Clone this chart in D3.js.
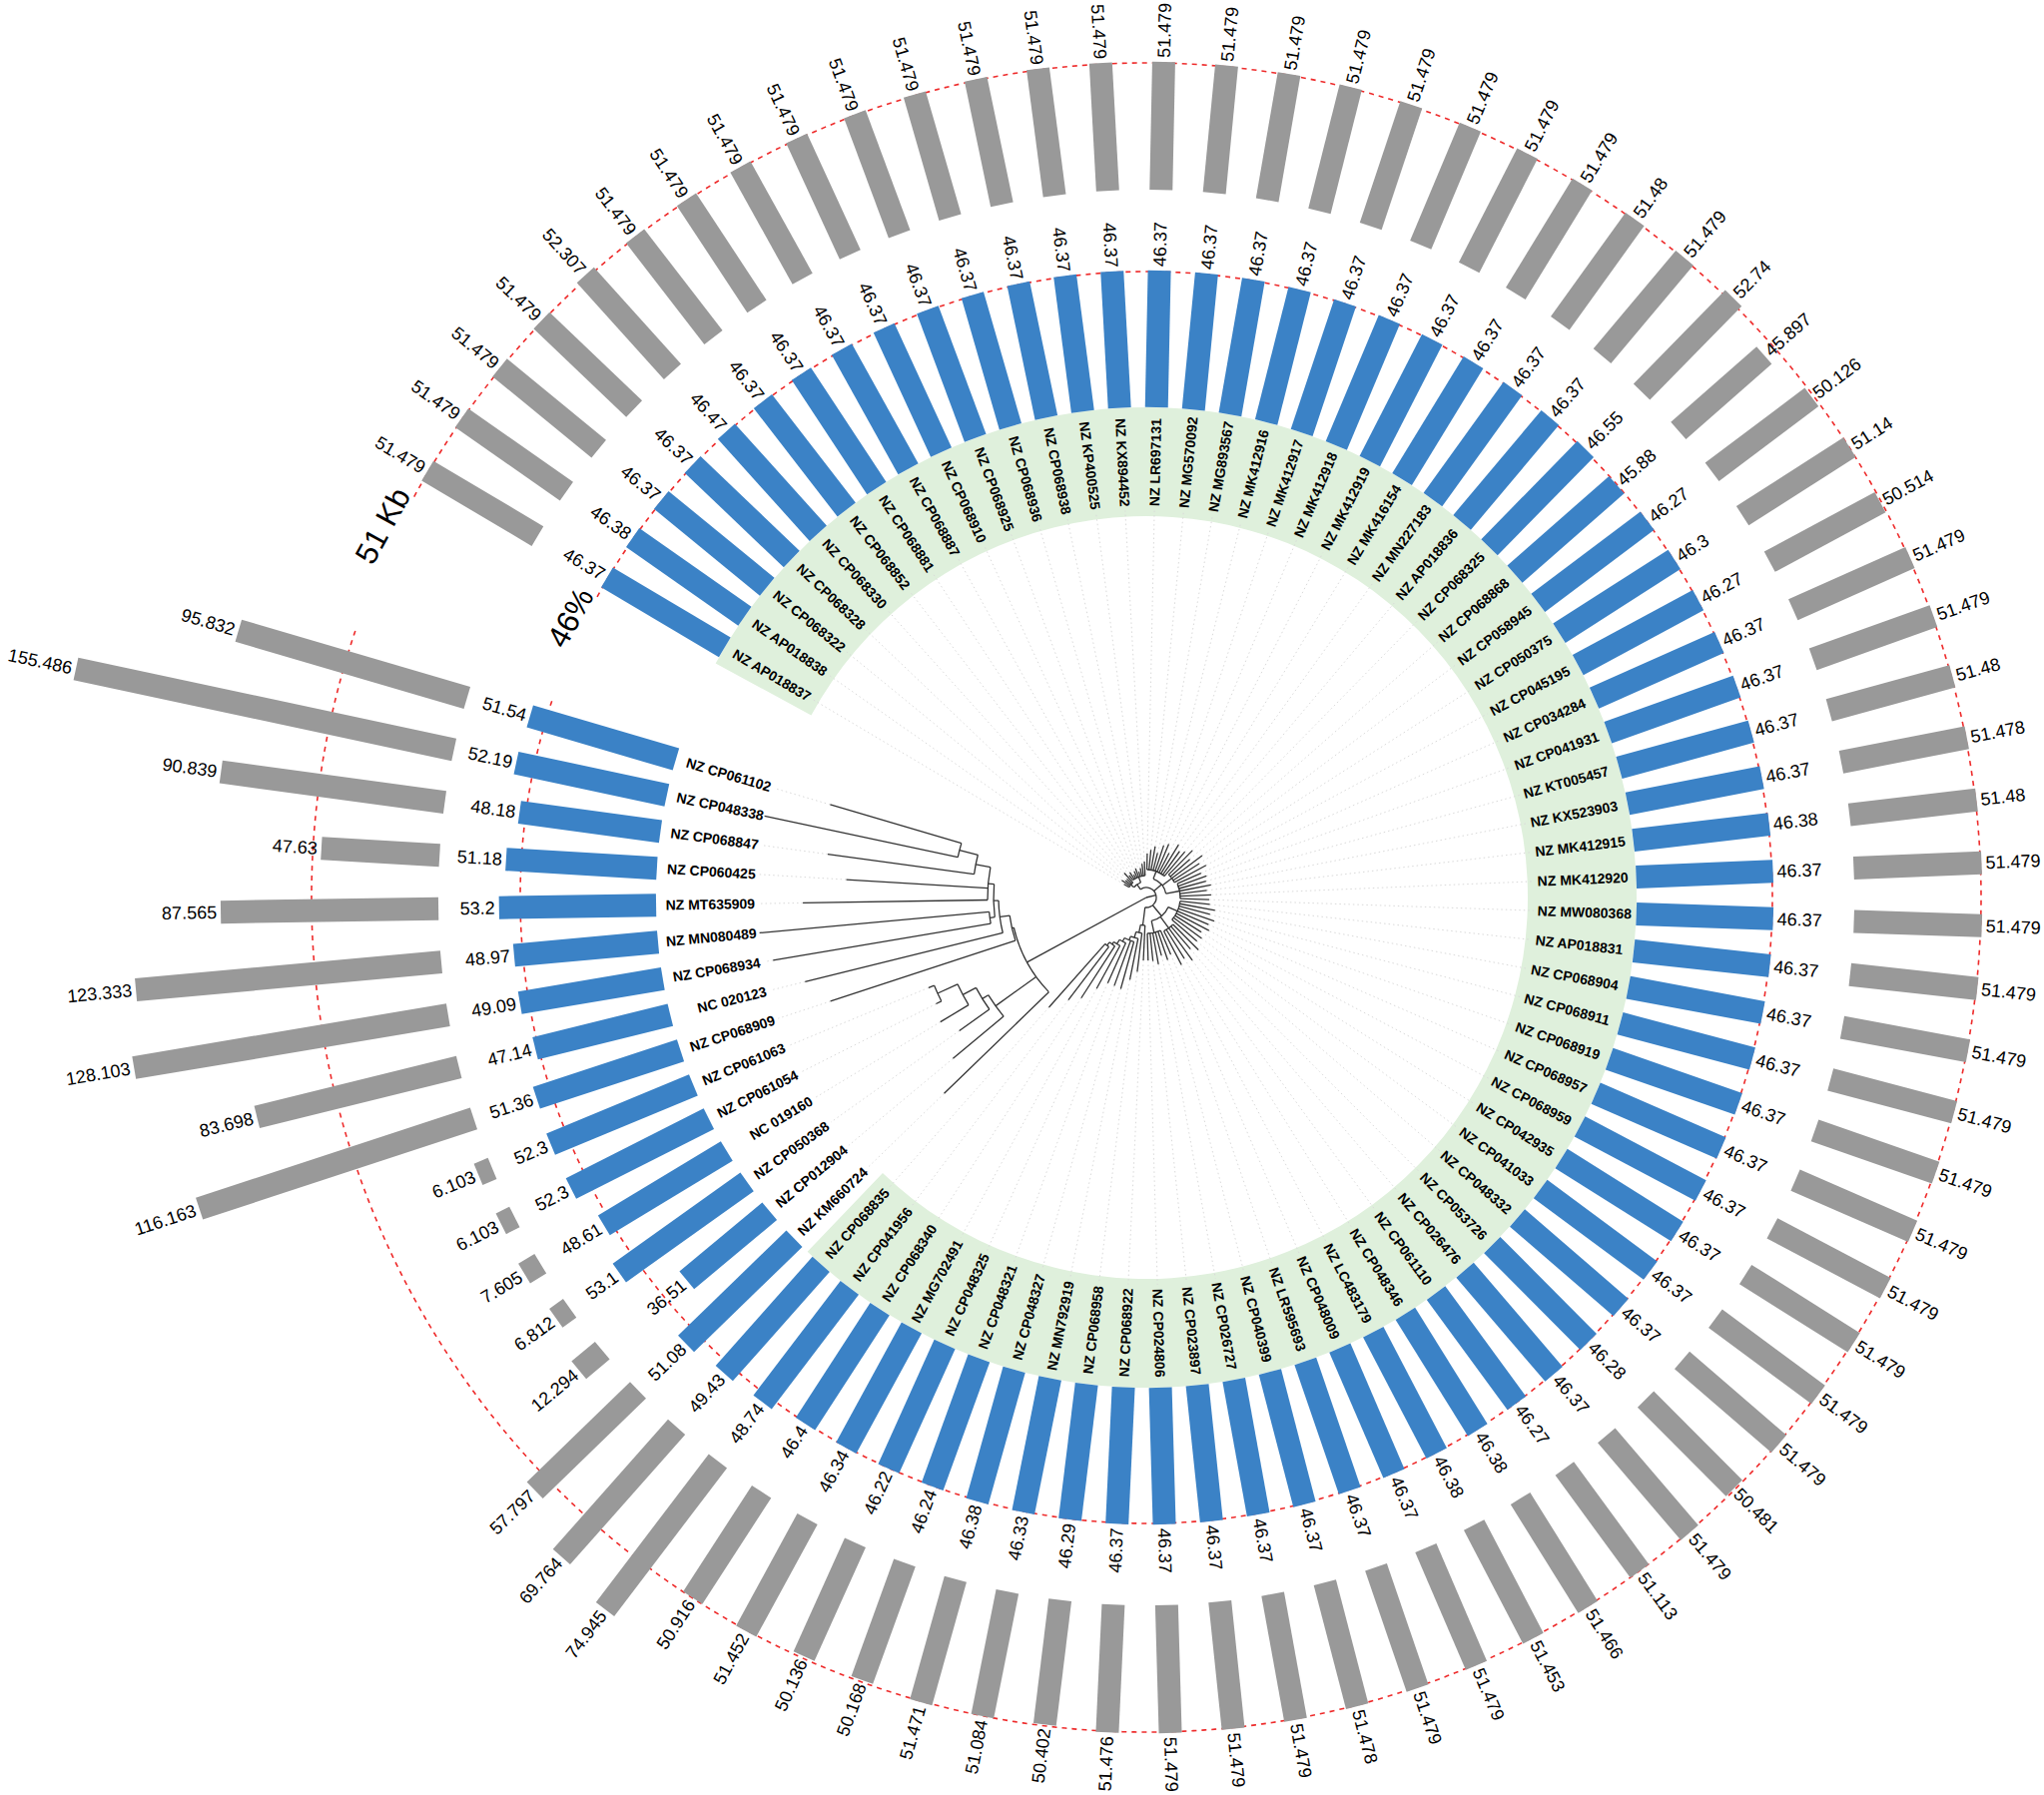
<!DOCTYPE html>
<html>
<head>
<meta charset="utf-8">
<script src="https://cdn.jsdelivr.net/npm/d3@7"></script>
<style>
  html, body { margin: 0; padding: 0; background: #fff; }
  svg { display: block; font-family: "Liberation Sans", Arial, Helvetica, sans-serif; }
</style>
</head>
<body>
<svg id="chart" width="2047" height="1798"></svg>
<script>
// ---- leaf order (clockwise around the circle) ----
const leafNames = [
  "NZ_AP018837","NZ_AP018838","NZ_CP068322","NZ_CP068328","NZ_CP068330","NZ_CP068852","NZ_CP068881",
  "NZ_CP068887","NZ_CP068910","NZ_CP068925","NZ_CP068936","NZ_CP068938","NZ_KP400525","NZ_KX894452",
  "NZ_LR697131","NZ_MG570092","NZ_MG893567","NZ_MK412916","NZ_MK412917","NZ_MK412918","NZ_MK412919",
  "NZ_MK416154","NZ_MN227183","NZ_AP018836","NZ_CP068325","NZ_CP068868","NZ_CP058945","NZ_CP050375",
  "NZ_CP045195","NZ_CP034284","NZ_CP041931","NZ_KT005457","NZ_KX523903","NZ_MK412915","NZ_MK412920",
  "NZ_MW080368","NZ_AP018831","NZ_CP068904","NZ_CP068911","NZ_CP068919","NZ_CP068957","NZ_CP068959",
  "NZ_CP042935","NZ_CP041033","NZ_CP048332","NZ_CP053726","NZ_CP026476","NZ_CP061110","NZ_CP048346",
  "NZ_LC483179","NZ_CP048009","NZ_LR595693","NZ_CP040399","NZ_CP026727","NZ_CP023897","NZ_CP024806",
  "NZ_CP068922","NZ_CP068958","NZ_MN792919","NZ_CP048327","NZ_CP048321","NZ_CP048325","NZ_MG702491",
  "NZ_CP068340","NZ_CP041956","NZ_CP068835","NZ_KM660724","NZ_CP012904","NZ_CP050368","NC_019160",
  "NZ_CP061054","NZ_CP061063","NZ_CP068909","NC_020123","NZ_CP068934","NZ_MN080489","NZ_MT635909",
  "NZ_CP060425","NZ_CP068847","NZ_CP048338","NZ_CP061102"
];

// ---- GC content (%) per leaf, same order ----
const gcPercent = [
  46.37,46.38,46.37,46.37,46.47,46.37,46.37,46.37,46.37,46.37,46.37,46.37,46.37,46.37,
  46.37,46.37,46.37,46.37,46.37,46.37,46.37,46.37,46.37,46.37,46.55,45.88,46.27,46.3,
  46.27,46.37,46.37,46.37,46.37,46.38,46.37,46.37,46.37,46.37,46.37,46.37,46.37,46.37,
  46.37,46.37,46.37,46.28,46.37,46.27,46.38,46.38,46.37,46.37,46.37,46.37,46.37,46.37,
  46.37,46.29,46.33,46.38,46.24,46.22,46.34,46.4,48.74,49.43,51.08,36.51,53.1,48.61,
  52.3,52.3,51.36,47.14,49.09,48.97,53.2,51.18,48.18,52.19,51.54
];

// ---- genome size (Kb) per leaf, same order ----
const genomeKb = [
  51.479,51.479,51.479,51.479,52.307,51.479,51.479,51.479,51.479,51.479,51.479,51.479,51.479,51.479,
  51.479,51.479,51.479,51.479,51.479,51.479,51.479,51.479,51.48,51.479,52.74,45.897,50.126,51.14,
  50.514,51.479,51.479,51.48,51.478,51.48,51.479,51.479,51.479,51.479,51.479,51.479,51.479,51.479,
  51.479,51.479,51.479,50.481,51.479,51.113,51.466,51.453,51.479,51.479,51.478,51.479,51.479,51.479,
  51.476,50.402,51.084,51.471,50.168,50.136,51.452,50.916,74.945,69.764,57.797,12.294,6.812,7.605,
  6.103,6.103,116.163,83.698,128.103,123.333,87.565,47.63,90.839,155.486,95.832
];

// leaves whose labels sit on the shaded clade band
const shadedFirst = "NZ_AP018837";
const shadedLast = "NZ_CP068835";

// reference levels drawn as dashed rings
const gcRef = 46;
const kbRef = 51;

// ---- phylogeny (branch lengths) ----
const treeNewick = `(
 (
  (
   (NZ_AP018837:0.006,NZ_AP018838:0.010,NZ_CP068322:0.007,NZ_CP068328:0.007,NZ_CP068330:0.013):0.004,
   (NZ_CP068852:0.006,NZ_CP068881:0.008,NZ_CP068887:0.004,NZ_CP068910:0.007,NZ_CP068925:0.009,
    NZ_CP068936:0.005,NZ_CP068938:0.008,NZ_KP400525:0.012,NZ_KX894452:0.014):0.006
  ):0.006,
  (
   (NZ_LR697131:0.016,NZ_MG570092:0.020,NZ_MG893567:0.024,NZ_MK412916:0.018,NZ_MK412917:0.027,
    NZ_MK412918:0.030,NZ_MK412919:0.022,NZ_MK416154:0.034,NZ_MN227183:0.029,NZ_AP018836:0.032):0.008,
   (NZ_CP068325:0.034,NZ_CP068868:0.026,NZ_CP058945:0.038,NZ_CP050375:0.031,NZ_CP045195:0.036):0.012,
   (NZ_CP034284:0.026,NZ_CP041931:0.030,NZ_KT005457:0.028,NZ_KX523903:0.032,NZ_MK412915:0.027,
    NZ_MK412920:0.031,NZ_MW080368:0.029):0.014
  ):0.010,
  (
   (NZ_AP018831:0.030,NZ_CP068904:0.036,NZ_CP068911:0.032,NZ_CP068919:0.038,NZ_CP068957:0.034,
    NZ_CP068959:0.037,NZ_CP042935:0.031,NZ_CP041033:0.035,NZ_CP048332:0.033):0.010,
   (NZ_CP053726:0.036,NZ_CP026476:0.030,NZ_CP061110:0.040,NZ_CP048346:0.034,NZ_LC483179:0.038):0.014,
   (NZ_CP048009:0.026,NZ_LR595693:0.030,NZ_CP040399:0.024,NZ_CP026727:0.032,NZ_CP023897:0.028,
    NZ_CP024806:0.027):0.012
  ):0.014,
  (
   NZ_CP068922:0.035,
   (NZ_CP068958:0.039,
    (NZ_MN792919:0.042,
     (NZ_CP048327:0.049,NZ_CP048321:0.048,
      (NZ_CP048325:0.044,
       (NZ_MG702491:0.049,
        (NZ_CP068340:0.062,
         (NZ_CP041956:0.067,NZ_CP068835:0.085):0.004
        ):0.003
       ):0.005
      ):0.004
     ):0.004
    ):0.006
   ):0.008
  ):0.018
 ):0.010,
 (
  NZ_KM660724:0.146,
  (NZ_CP012904:0.066,
   (NZ_CP050368:0.037,
    (NC_019160:0.033,
     (NZ_CP061054:0.006,NZ_CP061063:0.006):0.022
    ):0.015
   ):0.007
  ):0.050,
  (NZ_CP068909:0.195,
   (NC_020123:0.204,
    (
     (NZ_CP068934:0.221,NZ_MN080489:0.231):0.005,
     (NZ_MT635909:0.185,NZ_CP060425:0.142,
      (NZ_CP068847:0.148,
       (NZ_CP048338:0.198,NZ_CP061102:0.137):0.019
      ):0.015
     ):0.006
    ):0.005
   ):0.010
  ):0.002
 ):0.136
);`;

// ---- Newick parser ----
function parseNewick(text) {
  const s = text.replace(/\s+/g, "");
  let i = 0;
  function node() {
    const n = {};
    if (s[i] === "(") {
      i++;
      n.children = [node()];
      while (s[i] === ",") { i++; n.children.push(node()); }
      i++;
    }
    let name = "";
    while (i < s.length && !",():;".includes(s[i])) name += s[i++];
    n.name = name;
    n.length = 0;
    if (s[i] === ":") {
      i++;
      let num = "";
      while (i < s.length && !",();".includes(s[i])) num += s[i++];
      n.length = +num;
    }
    return n;
  }
  return node();
}

// ---- layout ----
const width = 2047, height = 1798;
const cx = 1148, cy = 899;

const labelR = 392;              // start of leaf labels
const bandInner = 382, bandOuter = 491;
const gcBase = 491;              // inner edge of GC bars
const kbBase = 709;              // inner edge of genome size bars
const barWidth = 23;
const valueFont = 18;

const n = leafNames.length;
const angle = d3.scaleLinear().domain([0, n]).range([300.7, 300.7 + 350]); // degrees, clockwise from 12 o'clock
const step = angle(1) - angle(0);
const gcLen = d3.scaleLinear().domain([0, gcRef]).range([0, 136]);
const kbLen = d3.scaleLinear().domain([0, kbRef]).range([0, 127]);

const rad = a => a * Math.PI / 180;
const pt = (r, a) => [r * Math.sin(rad(a)), -r * Math.cos(rad(a))];
const norm = a => ((a % 360) + 360) % 360;
const display = s => s.replace(/_/g, " ");

function arcPath(r, a1, a2) {
  const p1 = pt(r, a1), p2 = pt(r, a2);
  const large = (a2 - a1) > 180 ? 1 : 0;
  return `M${p1[0]},${p1[1]}A${r},${r} 0 ${large} 1 ${p2[0]},${p2[1]}`;
}

const svg = d3.select("#chart");
svg.append("rect").attr("width", width).attr("height", height).attr("fill", "#fff");
const g = svg.append("g").attr("transform", `translate(${cx},${cy})`);

const index = new Map(leafNames.map((d, i) => [d, i]));

// ---- tree ----
const root = d3.hierarchy(parseNewick(treeNewick));
root.eachBefore(d => { d.dist = d.parent ? d.parent.dist + d.data.length : 0; });
const maxDist = d3.max(root.leaves(), d => d.dist);
const treeR = d3.scaleLinear().domain([0, maxDist]).range([0, labelR - 1]);
root.eachAfter(d => {
  if (d.children) {
    d.angle = (d.children[0].angle + d.children[d.children.length - 1].angle) / 2;
  } else {
    d.angle = angle(index.get(d.data.name));
  }
  d.r = treeR(d.dist);
});

// shaded clade band behind labels
const iFirst = index.get(shadedFirst), iLast = index.get(shadedLast);
g.append("path")
  .attr("d", d3.arc()
    .innerRadius(bandInner).outerRadius(bandOuter)
    .startAngle(rad(angle(iFirst) - step / 2))
    .endAngle(rad(angle(iLast) + step / 2))())
  .attr("fill", "#dff0dc");

// dotted guides from tips to labels
g.append("g").selectAll("path")
  .data(root.leaves().filter(d => d.r < labelR - 6))
  .join("path")
  .attr("d", d => { const a = pt(d.r, d.angle), b = pt(labelR - 4, d.angle); return `M${a}L${b}`; })
  .attr("stroke", "#dadada").attr("stroke-width", 1).attr("stroke-dasharray", "1.5,3")
  .attr("fill", "none");

// branches
const treeG = g.append("g").attr("fill", "none").attr("stroke", "#333").attr("stroke-width", 1.3);
treeG.selectAll("path.branch")
  .data(root.descendants().filter(d => d.parent))
  .join("path").attr("class", "branch")
  .attr("d", d => { const a = pt(d.parent.r, d.angle), b = pt(d.r, d.angle); return `M${a}L${b}`; });
treeG.selectAll("path.arc")
  .data(root.descendants().filter(d => d.children && d.r > 0))
  .join("path").attr("class", "arc")
  .attr("d", d => arcPath(d.r, d.children[0].angle, d.children[d.children.length - 1].angle));

// dashed reference rings
const aStart = angle(0) - 2, aEnd = angle(n - 1) + 2.3;
const gcRefR = gcBase + gcLen(gcRef), kbRefR = kbBase + kbLen(kbRef);
[gcRefR, kbRefR].forEach(r => {
  g.append("path").attr("d", arcPath(r, aStart, aEnd))
    .attr("fill", "none").attr("stroke", "#ee2b2b").attr("stroke-width", 1.6)
    .attr("stroke-dasharray", "5,5");
});

// bars
const leaves = leafNames.map((name, i) => ({ name, i, a: angle(i), gc: gcPercent[i], kb: genomeKb[i] }));

g.append("g").selectAll("rect")
  .data(leaves).join("rect")
  .attr("transform", d => `rotate(${d.a - 90})`)
  .attr("x", gcBase).attr("y", -barWidth / 2)
  .attr("width", d => gcLen(d.gc)).attr("height", barWidth)
  .attr("fill", "#3b82c6");

g.append("g").selectAll("rect")
  .data(leaves).join("rect")
  .attr("transform", d => `rotate(${d.a - 90})`)
  .attr("x", kbBase).attr("y", -barWidth / 2)
  .attr("width", d => kbLen(d.kb)).attr("height", barWidth)
  .attr("fill", "#999999");

// radial text helper: reads outward on the right half, flipped on the left half
function radialText(sel, rOf, txt, size, weight) {
  sel.append("text")
    .attr("transform", d => {
      const a = norm(d.a), r = rOf(d);
      return a < 180
        ? `rotate(${d.a - 90}) translate(${r},0)`
        : `rotate(${d.a - 90}) translate(${r},0) rotate(180)`;
    })
    .attr("text-anchor", d => norm(d.a) < 180 ? "start" : "end")
    .attr("dy", "0.35em")
    .attr("font-size", size)
    .attr("font-weight", weight)
    .attr("fill", "#000")
    .text(txt);
}

const labelG = g.append("g");
const perLeaf = labelG.selectAll("g").data(leaves).join("g");
radialText(perLeaf, () => labelR, d => display(d.name), 14, "bold");
radialText(perLeaf, d => gcBase + gcLen(d.gc) + 4, d => d.gc, valueFont, "normal");
radialText(perLeaf, d => kbBase + kbLen(d.kb) + 4, d => d.kb, valueFont, "normal");

// ring captions placed in the gap, along the ring
const capA = angle(0) - 2;
[[gcRefR, `${gcRef}%`], [kbRefR, `${kbRef} Kb`]].forEach(([r, t]) => {
  g.append("text")
    .attr("transform", `rotate(${capA}) translate(0,${-r - 3})`)
    .attr("text-anchor", "end")
    .attr("font-size", 31)
    .attr("fill", "#000")
    .text(t);
});
</script>
</body>
</html>
